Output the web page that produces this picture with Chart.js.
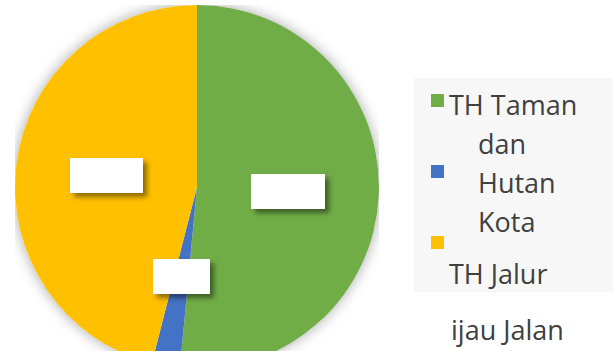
<!DOCTYPE html>
<html lang="id">
<head>
<meta charset="UTF-8" />
<title>Pie</title>
<script src="https://cdn.jsdelivr.net/npm/chart.js@4/dist/chart.umd.min.js"></script>
<style>
  html, body { margin: 0; padding: 0; width: 613px; height: 351px; overflow: hidden; background: #fff; }
  #wrap { position: absolute; left: 15px; top: 5px; width: 364px; height: 364px; }
  #legend { position: absolute; left: 414px; top: 78px; width: 199px; height: 214px; background: #f7f7f7; }
  .sw { position: absolute; left: 17px; width: 13px; height: 13px; }
  .tx { position: absolute; font-family: "Open Sans", sans-serif; font-size: 27px; line-height: 39px; color: #404040; white-space: nowrap; }
</style>
</head>
<body>
<div id="wrap"><canvas id="chart" width="364" height="364"></canvas></div>
<div id="legend"></div>
<div class="tx" style="left:449px; top:85px;">TH Taman</div>
<div class="tx" style="left:478px; top:124px;">dan<br>Hutan<br>Kota</div>
<div class="tx" style="left:449px; top:254px;">TH Jalur</div>
<div class="tx" style="left:451px; top:310px;">ijau Jalan</div>
<script>
const categories = ['TH Taman dan Hutan Kota', '', 'TH Jalur Hijau Jalan'];
const values = [51.5, 2.5, 46.0];
const colors = ['#70ad47', '#4472c4', '#ffc000'];

// legend swatches
const swTops = [16, 87, 158];
const legend = document.getElementById('legend');
colors.forEach((c, i) => {
  const s = document.createElement('div');
  s.className = 'sw';
  s.style.top = swTops[i] + 'px';
  s.style.background = c;
  legend.appendChild(s);
});

// soft shadow behind the whole pie
const pieShadow = {
  id: 'pieShadow',
  beforeDatasetsDraw(chart) {
    const arc = chart.getDatasetMeta(0).data[0];
    if (!arc) return;
    const ctx = chart.ctx;
    ctx.save();
    ctx.shadowColor = 'rgba(0,0,0,0.35)';
    ctx.shadowBlur = 14;
    ctx.fillStyle = '#ffffff';
    ctx.beginPath();
    ctx.arc(arc.x, arc.y, arc.outerRadius, 0, Math.PI * 2);
    ctx.fill();
    ctx.restore();
  }
};

// blank white data label boxes
const boxWidths = [74, 57, 73];
const labelBoxes = {
  id: 'labelBoxes',
  afterDatasetsDraw(chart) {
    const ctx = chart.ctx;
    chart.getDatasetMeta(0).data.forEach((arc, i) => {
      const p = arc.tooltipPosition();
      const w = boxWidths[i], h = 35;
      ctx.save();
      ctx.shadowColor = 'rgba(0,0,0,0.45)';
      ctx.shadowBlur = 5;
      ctx.shadowOffsetX = 4;
      ctx.shadowOffsetY = 4;
      ctx.fillStyle = '#ffffff';
      ctx.fillRect(Math.round(p.x - w / 2), Math.round(p.y - h / 2), w, h);
      ctx.restore();
    });
  }
};

new Chart(document.getElementById('chart').getContext('2d'), {
  type: 'pie',
  data: {
    labels: categories,
    datasets: [{
      data: values,
      backgroundColor: colors,
      borderWidth: 0
    }]
  },
  options: {
    responsive: false,
    animation: false,
    layout: { padding: 0 },
    plugins: {
      legend: { display: false },
      tooltip: { enabled: false }
    }
  },
  plugins: [pieShadow, labelBoxes]
});
</script>
</body>
</html>
